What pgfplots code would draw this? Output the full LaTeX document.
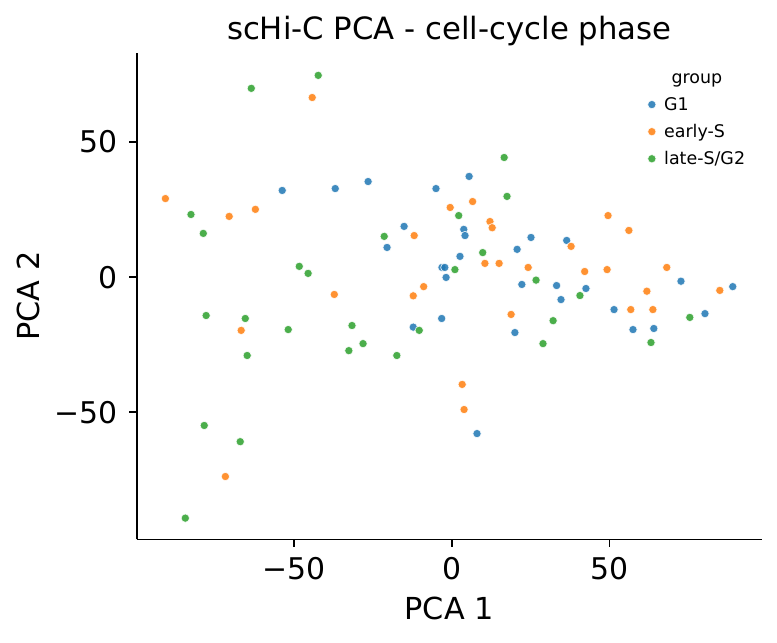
\documentclass[border=0pt]{standalone}
\usepackage{fontspec}
\setmainfont{DejaVu Sans}
\usepackage{pgfplots}
\pgfplotsset{compat=1.18}
\definecolor{c1}{HTML}{1F77B4}
\definecolor{c2}{HTML}{FF7F0E}
\definecolor{c3}{HTML}{2CA02C}
\begin{document}
\begin{tikzpicture}[x=1bp,y=1bp]
\path[use as bounding box] (-65.6,-49.3) rectangle (307.3,258.9);
\begin{axis}[
  at={(0,0)}, anchor=south west,
  scale only axis, width=300bp, height=233.6bp,
  xmin=-99.8, xmax=98.2, ymin=-97.1, ymax=83.1,
  axis x line*=bottom, axis y line*=left,
  axis line style={-, line width=0.8bp, black},
  xtick={-50,0,50}, ytick={-50,0,50},
  xticklabels={−50,0,50}, yticklabels={−50,0,50},
  tick align=outside, major tick length=3.5bp,
  tick style={line width=0.8bp, black},
  ticklabel style={font=\fontsize{14.4}{16}\selectfont},
  xticklabel style={anchor=base, inner sep=0pt, yshift=-15.7bp},
  yticklabel style={anchor=east, inner sep=0pt, xshift=-5.3bp},
  xlabel={PCA 1}, ylabel={PCA 2},
  label style={font=\fontsize{14.6}{16}\selectfont},
  xlabel style={at={(axis description cs:0.5,-0.1644)}, anchor=base, inner sep=0pt},
  ylabel style={at={(axis description cs:-0.1547,0.5)}, anchor=base, inner sep=0pt},
  title={scHi-C PCA - cell-cycle phase},
  every axis title shift=0pt,
  title style={at={(axis description cs:0.5,1.0261)}, anchor=base, inner sep=0pt, font=\fontsize{14.8}{16}\selectfont},
  legend image code/.code={\draw[#1] plot coordinates {(0bp,2.8bp)};},
  legend cell align=left,
  legend style={at={(axis description cs:0.8168,0.9649)}, anchor=north west,
    draw=none, fill=none, inner sep=0pt,
    font=\fontsize{8.4}{9}\selectfont,
    row sep=4.7bp, column sep=3.9bp,
    nodes={inner sep=0pt, text height=6.3bp, text depth=2.0bp, anchor=base west}},
  every axis plot/.append style={only marks, mark=*, mark size=2.0bp, opacity=0.85},
]
\addlegendimage{empty legend}
\addlegendentry{\hspace*{3.55bp}group}
\addplot[mark options={fill=c1, draw=white, line width=0.35bp}] coordinates {
(-53.7,32.1) (-36.9,32.8) (-26.5,35.4) (-5.0,32.8) (-15.1,18.8) (-20.5,11.0)
(-3.1,3.6) (-2.2,3.6) (-1.8,-0.1) (5.5,37.3) (3.8,17.7) (4.2,15.4)
(25.1,14.7) (36.4,13.6) (20.7,10.3) (2.6,7.7) (22.2,-2.7) (33.2,-3.1)
(42.5,-4.2) (72.6,-1.5) (89.0,-3.5) (34.6,-8.3) (-3.2,-15.3) (20.0,-20.5)
(51.4,-12.0) (57.4,-19.4) (64.0,-19.0) (80.2,-13.5) (8.0,-57.9) (-12.2,-18.5)
};
\addlegendentry{G1}
\addplot[mark options={fill=c2, draw=white, line width=0.35bp}] coordinates {
(-44.2,66.5) (-90.7,29.1) (-70.5,22.5) (-62.2,25.1) (-0.5,25.8) (-11.9,15.4)
(-37.2,-6.4) (-12.2,-6.9) (-8.9,-3.5) (6.6,28.0) (49.5,22.8) (56.1,17.3)
(12.1,20.6) (12.8,18.3) (37.8,11.4) (10.5,5.1) (15.0,5.1) (24.2,3.6)
(42.1,2.1) (49.2,2.8) (68.1,3.6) (84.9,-4.9) (61.8,-5.2) (18.8,-13.8)
(56.7,-12.0) (63.7,-12.0) (3.3,-39.7) (3.9,-49.0) (-66.7,-19.7) (-71.7,-73.8)
};
\addlegendentry{early-S}
\addplot[mark options={fill=c3, draw=white, line width=0.35bp}] coordinates {
(-42.3,74.7) (-63.5,69.9) (-82.6,23.2) (-78.7,16.2) (2.2,22.8) (-21.4,15.1)
(-48.3,4.0) (-45.5,1.4) (1.0,2.8) (16.6,44.3) (17.5,29.9) (9.8,9.1)
(26.7,-1.1) (40.6,-6.8) (32.1,-16.1) (28.9,-24.6) (63.1,-24.2) (75.4,-14.9)
(-77.8,-14.2) (-65.4,-15.3) (-51.8,-19.4) (-31.6,-17.9) (-64.8,-29.0) (-32.6,-27.2)
(-28.1,-24.6) (-17.4,-29.0) (-10.3,-19.7) (-78.4,-54.9) (-67.0,-60.9) (-84.4,-89.2)
};
\addlegendentry{late-S/G2}
\end{axis}
\end{tikzpicture}
\end{document}
